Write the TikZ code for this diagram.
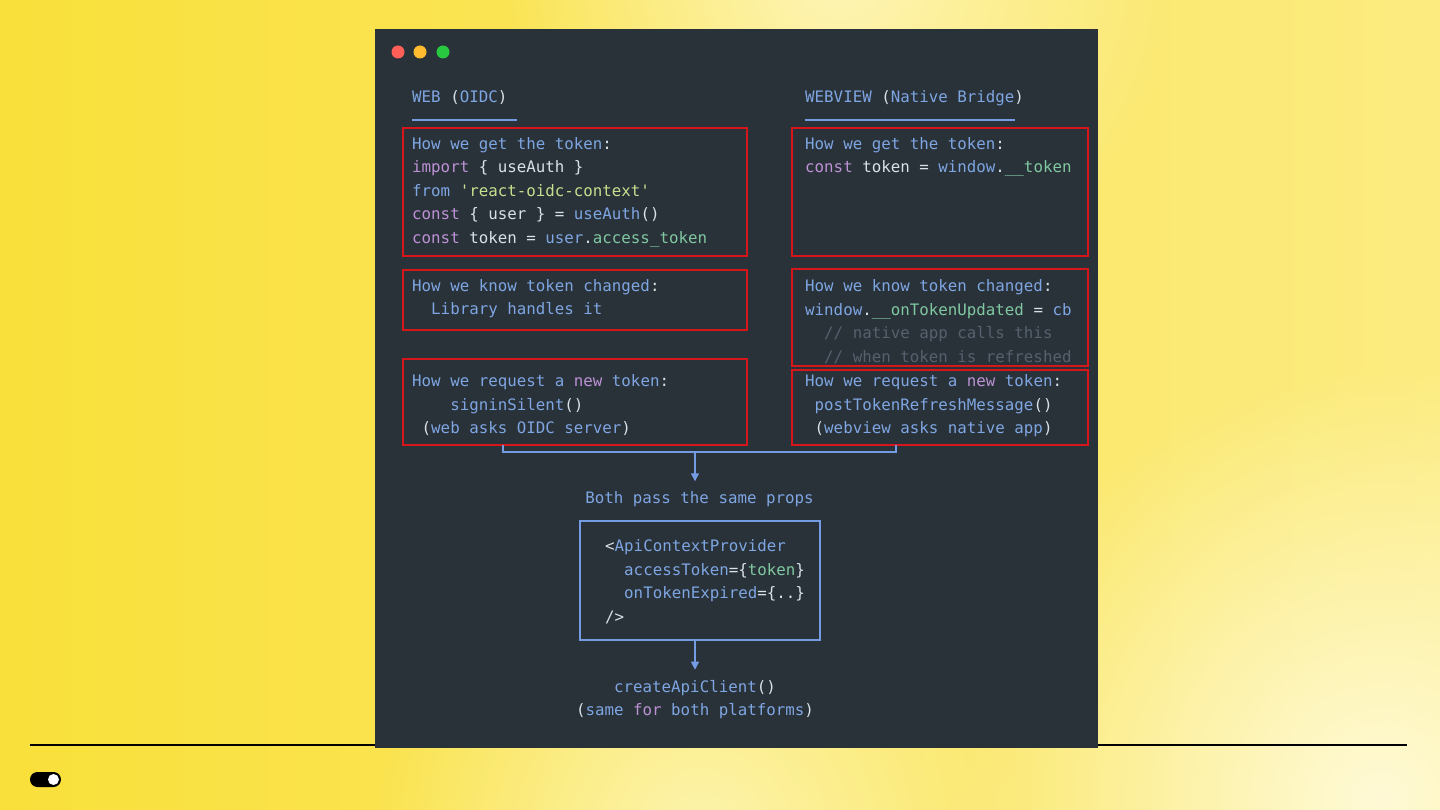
\documentclass[tikz,border=0pt]{standalone}
\usepackage{fontspec}
\setmonofont{DejaVu Sans Mono}
\usetikzlibrary{arrows.meta,fadings}
\definecolor{bgyellow}{RGB}{249,224,58}
\definecolor{bgpale}{RGB}{255,250,214}
\definecolor{panel}{RGB}{41,49,57}
\definecolor{cblue}{RGB}{126,166,226}
\definecolor{cwhite}{RGB}{218,224,232}
\definecolor{cpurple}{RGB}{188,146,212}
\definecolor{cstring}{RGB}{196,224,142}
\definecolor{cgreen}{RGB}{128,200,160}
\definecolor{cgrey}{RGB}{86,97,109}
\definecolor{cred}{RGB}{214,22,26}
\definecolor{cline}{RGB}{116,156,226}
\definecolor{lightred}{RGB}{255,95,87}
\definecolor{lightyellow}{RGB}{254,188,46}
\definecolor{lightgreen}{RGB}{40,200,64}
\tikzfading[name=softglow,inner color=transparent!0,outer color=transparent!100]
\newcommand\bl[1]{\textcolor{cblue}{#1}}
\newcommand\kw[1]{\textcolor{cpurple}{#1}}
\newcommand\strg[1]{\textcolor{cstring}{#1}}
\newcommand\prp[1]{\textcolor{cgreen}{#1}}
\newcommand\cmt[1]{\textcolor{cgrey}{#1}}
\newcommand\ind[1]{\hspace*{#1\fontcharwd\font`x}}
\begin{document}
\begin{tikzpicture}[x=1pt,y=-1pt,>=Stealth,
code/.style={anchor=base west,inner sep=0,align=left,text=cwhite,font=\ttfamily\frenchspacing\fontsize{15.8}{23.5}\selectfont},
redbox/.style={draw=cred,line width=1.7pt,inner sep=0,outer sep=0},
link/.style={draw=cline,line width=1.3pt},
flow/.style={link,-{Triangle[width=8pt,length=8pt]}}]
\useasboundingbox (0,0) rectangle (1440,810);
\shade[left color=bgyellow,right color=bgyellow!55!bgpale] (0,0) rectangle (1440,810);
\fill[bgpale,path fading=softglow] (1380,800) circle (430);
\fill[bgpale!80!bgyellow,path fading=softglow] (840,-30) circle (340);
\fill[bgpale!75!bgyellow,path fading=softglow] (700,840) circle (330);
\draw[black,line width=1.5pt] (30,745) -- (1407,745);
\fill[black,rounded corners=7.5pt] (30,772) rectangle (61,787);
\fill[white] (53.5,779.5) circle (5.5);
\fill[panel] (375,29) rectangle (1098,748);
\fill[lightred] (398,52) circle (6.5);
\fill[lightyellow] (420,52) circle (6.5);
\fill[lightgreen] (443,52) circle (6.5);
\node[code] (hweb) at (412,102.5) {\bl{WEB} (\bl{OIDC})};
\node[code] (hview) at (805,102.5) {\bl{WEBVIEW} (\bl{Native Bridge})};
\draw[link] (412,120) -- (517,120);
\draw[link] (805,120) -- (1015,120);
\node[redbox,minimum width=344,minimum height=128] (l1) at (575,192) {};
\node[redbox,minimum width=296,minimum height=128] (r1) at (940,192) {};
\node[redbox,minimum width=344,minimum height=60] (l2) at (575,300) {};
\node[redbox,minimum width=296,minimum height=97] (r2) at (940,317.5) {};
\node[redbox,minimum width=344,minimum height=86] (l3) at (575,402) {};
\node[redbox,minimum width=296,minimum height=75] (r3) at (940,407.5) {};
\node[code] (getweb) at (412,243.5) {\bl{How we get the token}:\\\kw{import} \{ useAuth \}\\\bl{from} \strg{'react-oidc-context'}\\\kw{const} \{ user \} = \bl{useAuth}()\\\kw{const} token = \bl{user}.\prp{access\_token}};
\node[code] (getview) at (805,173) {\bl{How we get the token}:\\\kw{const} token = \bl{window}.\prp{\_\_token}};
\node[code] (knowweb) at (412,315) {\bl{How we know token changed}:\\\ind{2}\bl{Library handles it}};
\node[code] (knowview) at (805,362) {\bl{How we know token changed}:\\\bl{window}.\prp{\_\_onTokenUpdated} = \bl{cb}\\\ind{2}\cmt{// native app calls this}\\\ind{2}\cmt{// when token is refreshed}};
\node[code] (reqweb) at (412,433.5) {\bl{How we request a} \kw{new} \bl{token}:\\\ind{4}\bl{signinSilent}()\\\ind{1}(\bl{web asks OIDC server})};
\node[code] (reqview) at (805,433.5) {\bl{How we request a} \kw{new} \bl{token}:\\\ind{1}\bl{postTokenRefreshMessage}()\\\ind{1}(\bl{webview asks native app})};
\coordinate (jl) at (503,452);
\coordinate (jr) at (896,452);
\coordinate (jm) at (695,452);
\node[code,anchor=base] (both) at (699.5,503.5) {\bl{Both pass the same props}};
\node[draw=cline,line width=1.3pt,inner sep=0,outer sep=0,minimum width=240,minimum height=119] (prov) at (700,580.5) {};
\node[code] (provtext) at (605,622) {<\bl{ApiContextProvider}\\\ind{2}\bl{accessToken}=\{\prp{token}\}\\\ind{2}\bl{onTokenExpired}=\{..\}\\/>};
\node[code,anchor=base,align=center] (api) at (695,715.5) {\bl{createApiClient}()\\(\bl{same} \kw{for} \bl{both platforms})};
\draw[link] (jl |- l3.south) -- (jl) -- (jr) -- (jr |- r3.south);
\draw[flow] (jm) -- ([yshift=10pt]jm |- both.north);
\draw[flow] (jm |- prov.south) -- ([yshift=10pt]jm |- api.north);
\end{tikzpicture}
\end{document}
